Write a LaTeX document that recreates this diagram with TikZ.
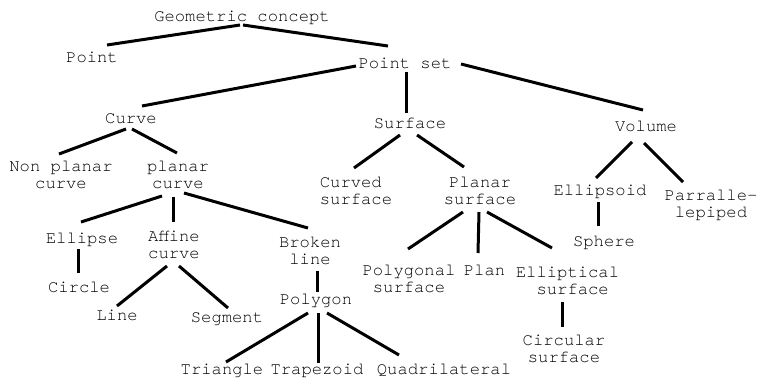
\documentclass[tikz,border=0pt]{standalone}
\usepackage{fontspec}
\setmainfont{texgyrecursor}[Extension=.otf, UprightFont=*-regular]
\newcommand\lnk[4]{\draw[conn] ([shift={#2}]#1.base) -- ([shift={#4}]#3.base);}
\begin{document}
\begin{tikzpicture}[x=1pt,y=-1pt,
  lbl/.style={anchor=base,align=center,inner sep=0pt,font=\fontsize{17.2}{17.5}\selectfont},
  conn/.style={line width=3pt}]
\useasboundingbox[fill=white] (0,0) rectangle (759,384);
\node[lbl] (gc) at (242,21) {Geometric concept};
\node[lbl] (point) at (92,62) {Point};
\node[lbl] (pset) at (405,68) {Point set};
\node[lbl] (curve) at (131,123) {Curve};
\node[lbl] (surface) at (410,128) {Surface};
\node[lbl] (volume) at (646,131) {Volume};
\node[lbl] (nonplanar) at (61,188.5) {Non planar\\curve};
\node[lbl] (planar) at (178,188.5) {planar\\curve};
\node[lbl,align=left] (curved) at (356,204.5) {Curved\\surface};
\node[lbl] (psurf) at (480,204.5) {Planar\\surface};
\node[lbl] (ellipsoid) at (600,195) {Ellipsoid};
\node[lbl] (parralle) at (711,217.5) {Parralle-\\lepiped};
\node[lbl] (ellipse) at (82,243) {Ellipse};
\node[lbl] (affine) at (174,258.5) {Affine\\curve};
\node[lbl] (broken) at (310,264.5) {Broken\\line};
\node[lbl] (circle) at (79,292) {Circle};
\node[lbl] (line) at (117,320) {Line};
\node[lbl] (segment) at (227,322) {Segment};
\node[lbl] (polygon) at (316,304) {Polygon};
\node[lbl] (triangle) at (222,374) {Triangle};
\node[lbl] (trapezoid) at (317,374) {Trapezoid};
\node[lbl] (quad) at (444,374) {Quadrilateral};
\node[lbl] (polygonal) at (409,292.5) {Polygonal\\surface};
\node[lbl] (plan) at (484.5,275) {Plan};
\node[lbl] (elliptical) at (567.5,294.5) {Elliptical\\\hphantom{x}surface};
\node[lbl] (circular) at (564,362.5) {Circular\\surface};
\node[lbl] (sphere) at (604,246) {Sphere};

\lnk{gc}{(-2,4)}{point}{(15,-17)}
\lnk{gc}{(1,4)}{pset}{(-17,-22)}
\lnk{pset}{(-49,-2)}{curve}{(11,-17)}
\lnk{pset}{(1,4)}{surface}{(-4,-15)}
\lnk{pset}{(56,-4)}{volume}{(-3,-21)}
\lnk{curve}{(-5,6)}{nonplanar}{(-2,-34.5)}
\lnk{curve}{(1,6)}{planar}{(-1,-35.5)}
\lnk{planar}{(-16,7.5)}{ellipse}{(-1,-21)}
\lnk{planar}{(-5,8.5)}{affine}{(-1,-36.5)}
\lnk{planar}{(6,4.5)}{broken}{(-2,-36.5)}
\lnk{ellipse}{(-4,6)}{circle}{(-1,-19)}
\lnk{affine}{(-7,7.5)}{line}{(0,-14)}
\lnk{affine}{(5,7.5)}{segment}{(1,-14)}
\lnk{broken}{(7,6.5)}{polygon}{(1,-12)}
\lnk{polygon}{(-8,9)}{triangle}{(4,-12)}
\lnk{polygon}{(2,9)}{trapezoid}{(1,-11)}
\lnk{polygon}{(11,9)}{quad}{(-45,-19)}
\lnk{surface}{(-10,7)}{curved}{(-2,-36.5)}
\lnk{surface}{(7,7)}{psurf}{(-16,-37.5)}
\lnk{psurf}{(-17,7.5)}{polygonal}{(-1,-43.5)}
\lnk{psurf}{(-1,7.5)}{plan}{(-6.5,-22)}
\lnk{psurf}{(7,7.5)}{elliptical}{(-15.5,-46.5)}
\lnk{elliptical}{(-5.5,7.5)}{circular}{(-2,-35.5)}
\lnk{volume}{(-14,11)}{ellipsoid}{(-4,-17)}
\lnk{volume}{(-2,12)}{parralle}{(-28,-35.5)}
\lnk{ellipsoid}{(-2,7)}{sphere}{(-6,-20)}
\end{tikzpicture}
\end{document}
